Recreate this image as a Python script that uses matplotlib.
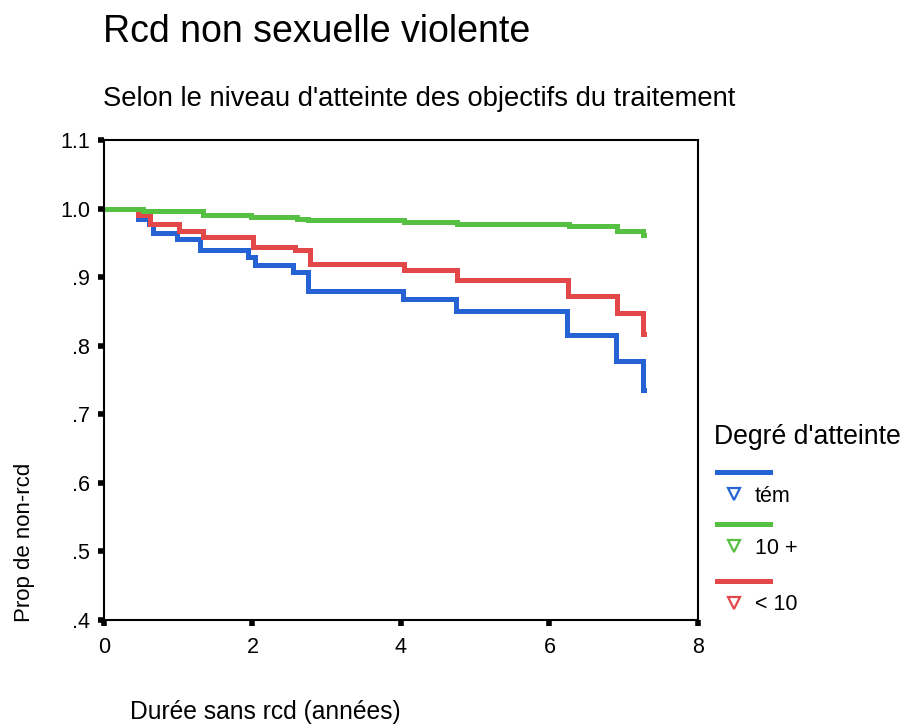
import numpy as np
import matplotlib.pyplot as plt
from matplotlib.lines import Line2D

plt.rcParams['font.family'] = ['Liberation Sans', 'DejaVu Sans']

# Kaplan-Meier steps (time, survival)
tem_t = [0, 0.44, 0.46, 0.60, 0.66, 0.98, 1.29, 1.94, 2.03, 2.55, 2.75, 4.03, 4.74, 6.24, 6.90, 7.26, 7.27]
tem_s = [1.0, 1.0, 0.985, 0.978, 0.964, 0.956, 0.939, 0.929, 0.917, 0.907, 0.880, 0.868, 0.851, 0.816, 0.778, 0.735, 0.735]

plus_t = [0, 0.52, 1.33, 1.98, 2.60, 2.75, 4.04, 4.75, 6.26, 6.91, 7.26, 7.27]
plus_s = [1.0, 0.996, 0.991, 0.988, 0.985, 0.983, 0.980, 0.978, 0.974, 0.967, 0.961, 0.961]

moins_t = [0, 0.46, 0.62, 1.01, 1.33, 2.01, 2.57, 2.77, 4.04, 4.75, 6.25, 6.91, 7.26, 7.27]
moins_s = [1.0, 0.990, 0.978, 0.968, 0.959, 0.944, 0.939, 0.919, 0.911, 0.896, 0.873, 0.847, 0.817, 0.817]

labels = ['tém', '10 +', '< 10']
colors = ['#2563d4', '#55c042', '#e2474a']

fig = plt.figure(figsize=(9.12, 7.26), dpi=100)
ax = fig.add_axes([104/912, 1-620/726, (698-104)/912, (620-140)/726])

for t, s, c in [(tem_t, tem_s, colors[0]), (moins_t, moins_s, colors[2]), (plus_t, plus_s, colors[1])]:
    ax.step(t, s, where='post', color=c, lw=3.6, solid_joinstyle='miter')

ax.set_xlim(0, 8)
ax.set_ylim(0.4, 1.1)
ax.set_xticks([0, 2, 4, 6, 8])
yt = [0.4, 0.5, 0.6, 0.7, 0.8, 0.9, 1.0, 1.1]
ax.set_yticks(yt)
ax.set_yticklabels(['.4', '.5', '.6', '.7', '.8', '.9', '1.0', '1.1'])
ax.tick_params(direction='out', length=4, width=4, labelsize=15.5)
ax.tick_params(axis='x', pad=8)
ax.tick_params(axis='y', pad=6)
for sp in ax.spines.values():
    sp.set_linewidth(1.5)

fig.text(103/912, 1-32/726, 'Rcd non sexuelle violente', fontsize=27, va='center')
fig.text(103/912, 1-99/726, "Selon le niveau d'atteinte des objectifs du traitement", fontsize=19.7, va='center')
fig.text(130/912, 1-712/726, 'Durée sans rcd (années)', fontsize=17.7, va='center')
fig.text(25/912, 1-542/726, 'Prop de non-rcd', fontsize=16, rotation=90, ha='center', va='center')

# legend
fig.text(714/912, 1-437/726, "Degré d'atteinte", fontsize=19.2, va='center')
line_y = [472, 524, 581]
for i, (lab, c) in enumerate(zip(labels, colors)):
    y = line_y[i]
    fig.add_artist(Line2D([717/912, 770/912], [1-y/726, 1-y/726], color=c, lw=3.6, transform=fig.transFigure))
    fig.add_artist(Line2D([734/912], [1-(y+22)/726], marker='v', ms=8, mfc='none', mec=c, mew=1.6, transform=fig.transFigure))
    fig.text(755/912, 1-(y+24)/726, lab, fontsize=15.5, va='center')

fig.savefig('out.png', dpi=100)
